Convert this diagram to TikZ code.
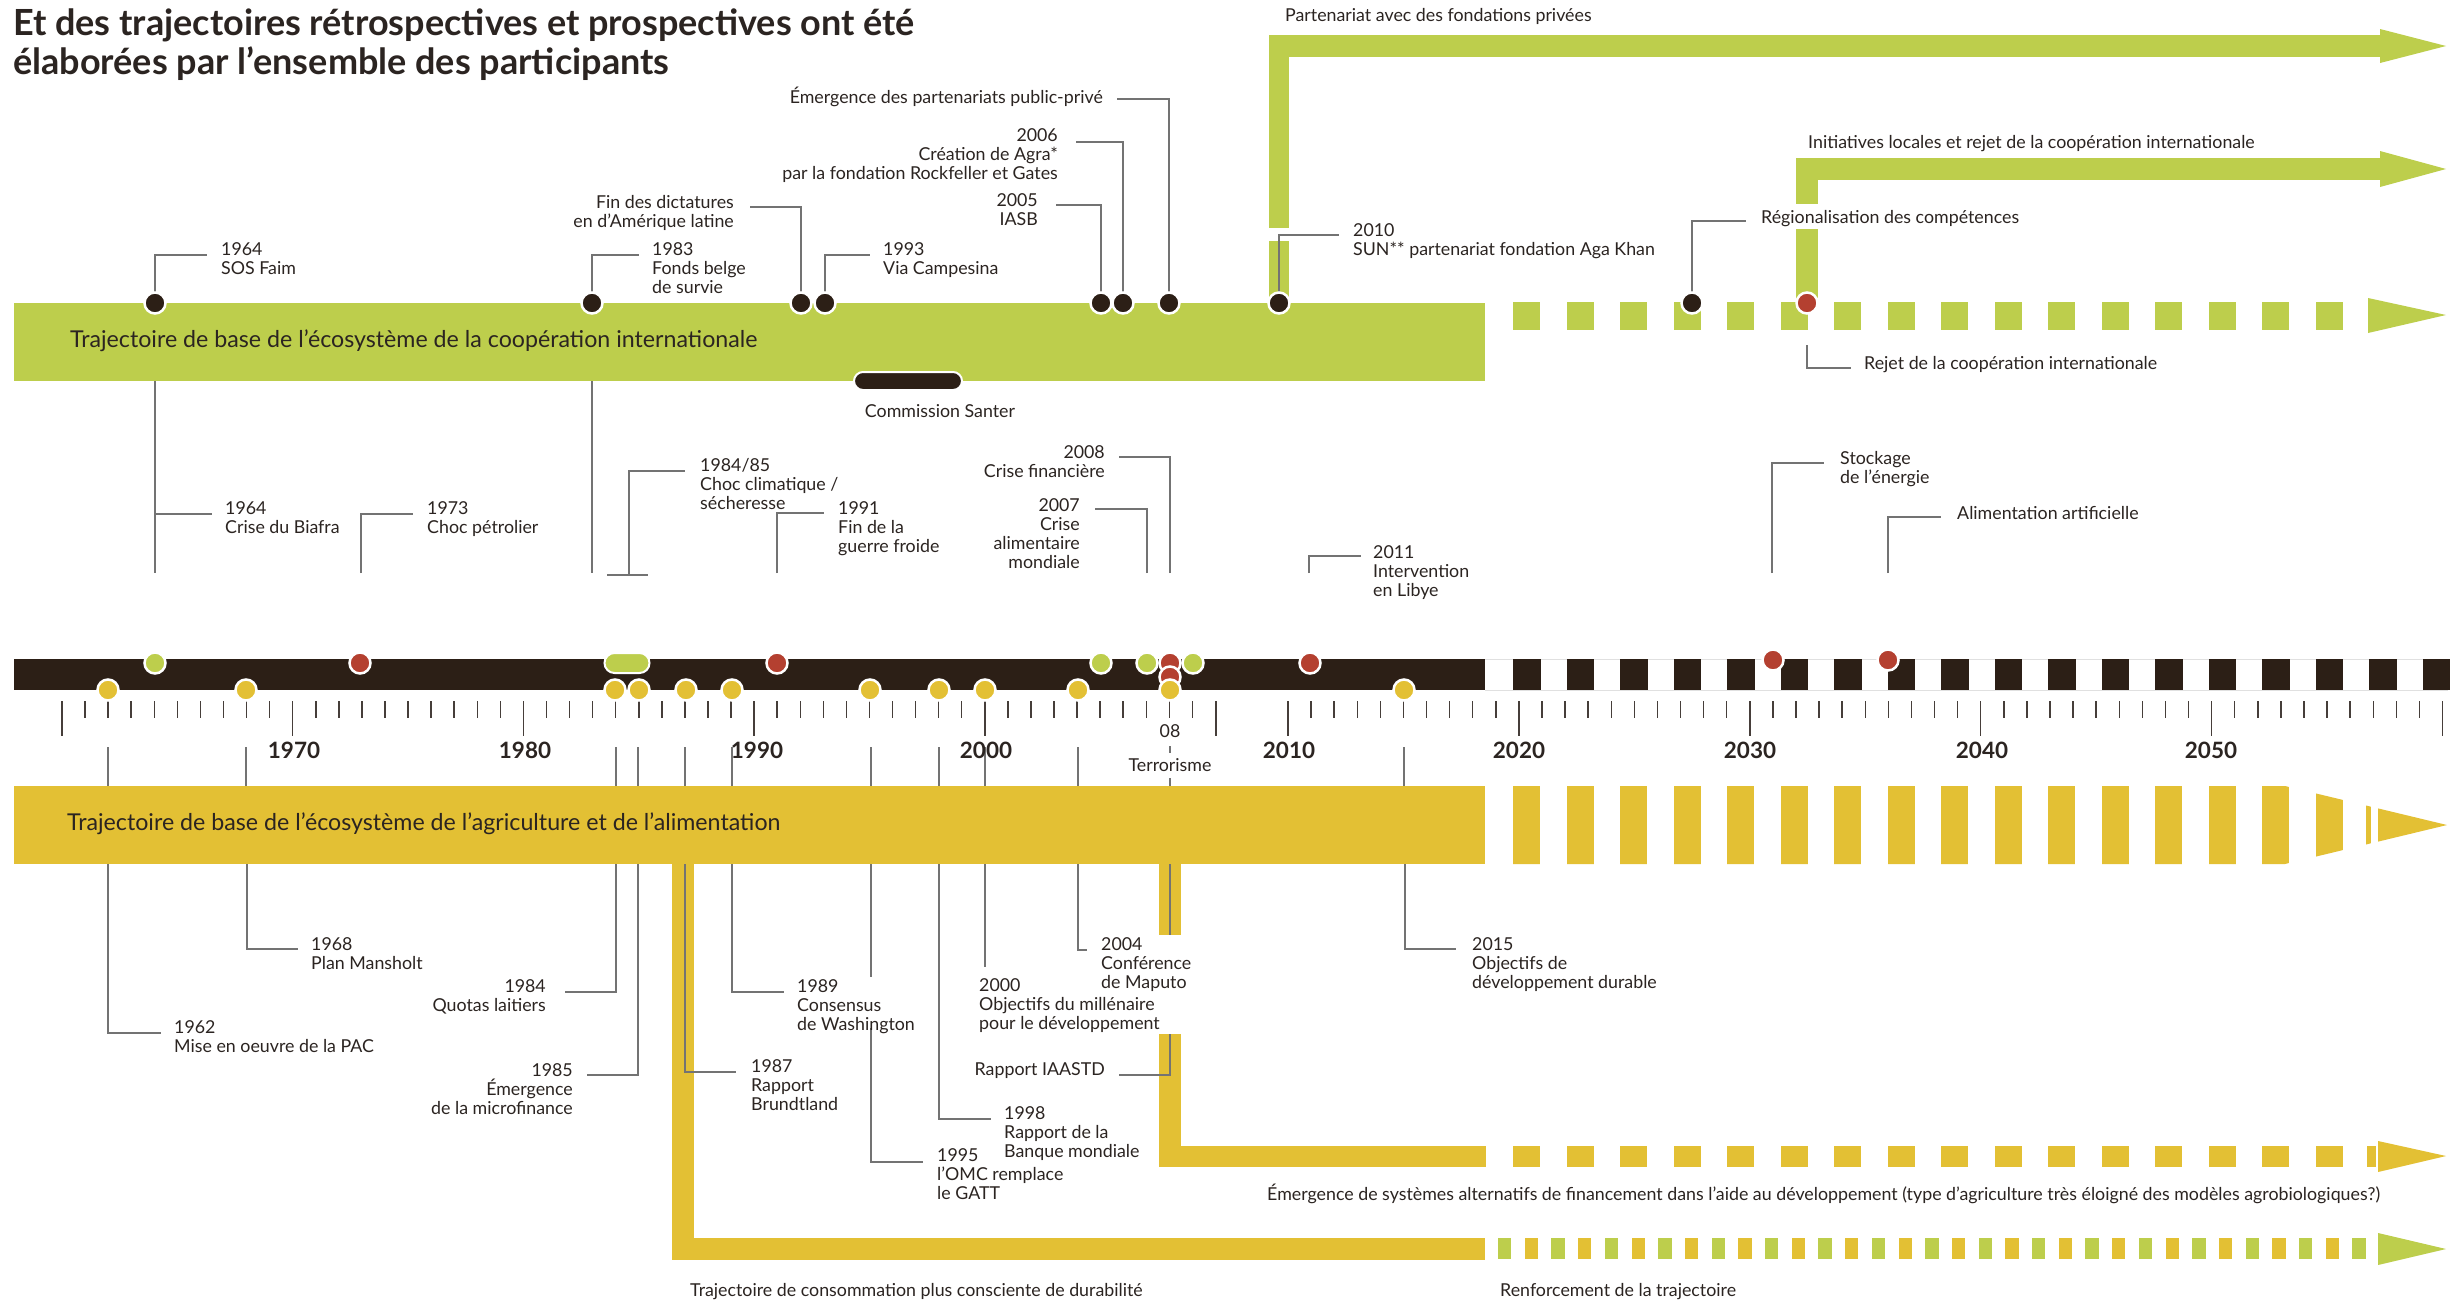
\documentclass[tikz,border=0pt]{standalone}
\usepackage{fontspec}
\setmainfont{Lato}
\definecolor{grn}{RGB}{189,206,76}
\definecolor{yel}{RGB}{227,192,52}
\definecolor{drk}{RGB}{44,31,22}
\definecolor{rd}{RGB}{180,64,48}
\definecolor{txt}{RGB}{43,36,33}
\definecolor{lin}{RGB}{115,115,115}
\definecolor{tk}{RGB}{70,62,58}
\newcommand{\labfont}{\fontsize{17.8}{19}\selectfont}
\newcommand{\bandfont}{\fontsize{23.2}{27}\selectfont}
\newcommand{\yrfont}{\fontsize{22.5}{26}\selectfont\bfseries}
\newcommand{\titlefont}{\fontsize{36}{39}\selectfont\bfseries}
\newcommand{\st}{\rule{0pt}{17pt}}
\pgfdeclarelayer{back}
\pgfdeclarelayer{lines}
\pgfsetlayers{back,lines,main}
\begin{document}
\begin{tikzpicture}[x=1pt,y=-1pt,
  lab/.style={font=\labfont, text=txt, inner sep=0pt, anchor=north west, align=left},
  labr/.style={lab, anchor=north east, align=right},
  labc/.style={lab, anchor=north, align=center},
  bandlab/.style={font=\bandfont, text=txt, inner sep=0pt, anchor=base west},
  yr/.style={font=\yrfont, text=txt, inner sep=0pt, anchor=base},
  dot/.style={circle, draw=white, line width=2.5pt, minimum size=21pt, inner sep=0pt},
  pill/.style={rectangle, rounded corners=9pt, draw=white, line width=2pt, inner sep=0pt},
  conn/.style={draw=lin, line width=1.6pt},
  tick/.style={draw=tk, line width=1.5pt}]
\useasboundingbox (0,0) rectangle (2464,1302);

\begin{pgfonlayer}{back}
\fill[white] (0,0) rectangle (2464,1302);
% ---- green band (international cooperation)
\fill[grn] (14,303) rectangle (1485,381);
\foreach \k in {0,...,15} \fill[grn] ({1513+53.5*\k},302) rectangle ++(27,28);
\fill[grn] (2368,298) -- (2446,315) -- (2368,333) -- cycle;
% top arrow 1
\fill[grn] (1269,35) rectangle (1289,228);
\fill[grn] (1269,241) rectangle (1289,303);
\fill[grn] (1269,35) rectangle (2380,57);
\fill[grn] (2380,29) -- (2446,46) -- (2380,63) -- cycle;
% top arrow 2
\fill[grn] (1796,158) rectangle (1818,204);
\fill[grn] (1796,229) rectangle (1818,303);
\fill[grn] (1796,158) rectangle (2380,180);
\fill[grn] (2380,151) -- (2446,169) -- (2380,187) -- cycle;
% ---- dark band (events)
\fill[drk] (14,659) rectangle (1485,690);
\draw[black!12, line width=1pt] (1485,659) -- (2448,659) (1485,690) -- (2448,690);
\foreach \k in {0,...,17} \fill[drk] ({1513+53.5*\k},659) rectangle ++(27.5,31);
% ---- yellow band (agriculture)
\fill[yel] (14,786) rectangle (1485,864);
\begin{scope}
\clip (1485,786) -- (2285,786) -- (2447,825) -- (2285,864) -- (1485,864) -- cycle;
\foreach \k in {0,...,15} \fill[yel] ({1513+53.5*\k},780) rectangle ++(27,90);
\fill[yel] (2366,780) rectangle (2371,870);
\fill[yel] (2378,780) rectangle (2460,870);
\end{scope}
% consumption trajectory
\fill[yel] (672,864) rectangle (694,1260);
\fill[yel] (672,1238) rectangle (1485,1260);
\foreach \k in {0,...,32}{
  \pgfmathsetmacro{\cc}{mod(\k,2)==0 ? 1 : 0}
  \ifdim\cc pt>0.5pt \fill[grn] ({1498+26.7*\k},1238) rectangle ++(13.3,21);
  \else \fill[yel] ({1498+26.7*\k},1238) rectangle ++(13.3,21); \fi
}
\fill[grn] (2378,1233) -- (2446,1249) -- (2378,1265) -- cycle;
% alternative financing trajectory
\fill[yel] (1159,864) rectangle (1181,935);
\fill[yel] (1159,1034) rectangle (1181,1167);
\fill[yel] (1159,1146) rectangle (1486,1167);
\foreach \k in {0,...,15} \fill[yel] ({1513+53.5*\k},1146) rectangle ++(27,21);
\fill[yel] (2367,1146) rectangle (2376,1167);
\fill[yel] (2378,1141) -- (2446,1156) -- (2378,1172) -- cycle;
\end{pgfonlayer}

% ---- title
\node[font=\titlefont, text=txt, inner sep=0pt, anchor=north west, align=left] (title) at (13,-1)
  {\rule{0pt}{36pt}Et des trajectoires rétrospectives et prospectives ont été\\élaborées par l’ensemble des participants};

% ---- band labels
\node[bandlab] (bandgreen) at (70,347) {Trajectoire de base de l’écosystème de la coopération internationale};
\node[bandlab] (bandyellow) at (67,830) {Trajectoire de base de l’écosystème de l’agriculture et de l’alimentation};

% ---- dots on green band
\node[dot, fill=drk] (a1964) at (155,303) {};
\node[dot, fill=drk] (a1983) at (592,303) {};
\node[dot, fill=drk] (a1992) at (801,303) {};
\node[dot, fill=drk] (a1993) at (825,303) {};
\node[dot, fill=drk] (a2005) at (1101,303) {};
\node[dot, fill=drk] (a2006) at (1123,303) {};
\node[dot, fill=drk] (a2008) at (1169,303) {};
\node[dot, fill=drk] (a2010) at (1279,303) {};
\node[dot, fill=drk] (a2027) at (1692,303) {};
\node[dot, fill=rd] (a2032) at (1807,303) {};
\node[pill, fill=drk, minimum width=108pt, minimum height=18pt] (santer) at (908,381) {};

% ---- dots on dark band
\node[dot, fill=grn] (b1964) at (155,663) {};
\node[dot, fill=rd] (b1973) at (360,663) {};
\node[pill, fill=grn, rounded corners=10pt, minimum width=45pt, minimum height=20pt] (b1984) at (627,663) {};
\node[dot, fill=rd] (b1991) at (777,663) {};
\node[dot, fill=grn] (b2005) at (1101,663) {};
\node[dot, fill=grn] (b2007) at (1147,663) {};
\node[dot, fill=rd] (b2008a) at (1170,663) {};
\node[dot, fill=grn] (b2009) at (1193,663) {};
\node[dot, fill=rd] (b2008b) at (1170,677) {};
\node[dot, fill=rd] (b2011) at (1310,663) {};
\node[dot, fill=rd] (b2031) at (1773,660) {};
\node[dot, fill=rd] (b2036) at (1888,660) {};
\foreach \x/\n in {108/c1962,246/c1968,615/c1984,639/c1985,686/c1987,732/c1989,870/c1995,939/c1998,985/c2000,1078/c2004,1170/c2008,1404/c2015}
  \node[dot, fill=yel] (\n) at (\x,690) {};

% ---- axis ticks and years
\begin{pgfonlayer}{lines}
\foreach \i in {0,...,49}{
  \pgfmathsetmacro{\xx}{62+23.07*\i}
  \pgfmathsetmacro{\yy}{mod(\i,10)==0 ? 736 : 718}
  \draw[tick] (\xx,701) -- (\xx,\yy);
}
\draw[tick] (1216,701) -- (1216,736);
\foreach \i in {0,...,50}{
  \pgfmathsetmacro{\xx}{1288+23.09*\i}
  \pgfmathsetmacro{\yy}{mod(\i,10)==0 ? 736 : 718}
  \draw[tick] (\xx,701) -- (\xx,\yy);
}
\end{pgfonlayer}
\foreach \x/\y in {294/1970,525/1980,757/1990,986/2000,1289/2010,1519/2020,1750/2030,1982/2040,2211/2050}
  \node[yr] (y\y) at (\x,758) {\y};
\node[labc] (y08) at (1170,720) {\st 08};
\node[labc] (terror) at (1170,754) {\st Terrorisme};

% ---- labels above green band
\node[lab] (l1964s) at (221,238) {\st 1964\\SOS Faim};
\node[lab] (l1983) at (652,238) {\st 1983\\Fonds belge\\de survie};
\node[labr] (ldict) at (734,191) {\st Fin des dictatures\\en d’Amérique latine};
\node[lab] (l1993) at (883,238) {\st 1993\\Via Campesina};
\node[labr] (l2005) at (1038,189) {\st 2005\\IASB};
\node[labr] (l2006) at (1058,124) {\st 2006\\Création de Agra*\\par la fondation Rockfeller et Gates};
\node[labr] (lppp) at (1103,86) {\st Émergence des partenariats public-privé};
\node[lab] (l2010) at (1353,219) {\st 2010\\SUN** partenariat fondation Aga Khan};
\node[lab] (lregio) at (1761,206) {\st Régionalisation des compétences};
\node[lab] (lpart) at (1285,4) {\st Partenariat avec des fondations privées};
\node[lab] (linit) at (1808,131) {\st Initiatives locales et rejet de la coopération internationale};
\node[lab] (lrejet) at (1864,352) {\st Rejet de la coopération internationale};
\node[labc] (lsanter) at (940,400) {\st Commission Santer};

% ---- labels between green and dark bands
\node[lab] (l1964b) at (225,497) {\st 1964\\Crise du Biafra};
\node[lab] (l1973) at (427,497) {\st 1973\\Choc pétrolier};
\node[lab] (l1984c) at (700,454) {\st 1984/85\\Choc climatique /\\sécheresse};
\node[lab] (l1991) at (838,497) {\st 1991\\Fin de la\\guerre froide};
\node[labr] (l2008) at (1105,441) {\st 2008\\Crise financière};
\node[labr] (l2007) at (1080,494) {\st 2007\\Crise\\alimentaire\\mondiale};
\node[lab] (l2011) at (1373,541) {\st 2011\\Intervention\\en Libye};
\node[lab] (lstock) at (1840,447) {\st Stockage\\de l’énergie};
\node[lab] (lalim) at (1957,502) {\st Alimentation artificielle};

% ---- labels below yellow band
\node[lab] (l1962) at (174,1016) {\st 1962\\Mise en oeuvre de la PAC};
\node[lab] (l1968) at (311,933) {\st 1968\\Plan Mansholt};
\node[labr] (l1984q) at (546,975) {\st 1984\\Quotas laitiers};
\node[labr] (l1985) at (573,1059) {\st 1985\\Émergence\\de la microfinance};
\node[lab] (l1987) at (751,1055) {\st 1987\\Rapport\\Brundtland};
\node[lab] (l1989) at (797,975) {\st 1989\\Consensus\\de Washington};
\node[lab] (l1995) at (937,1144) {\st 1995\\l’OMC remplace\\le GATT};
\node[lab] (l1998) at (1004,1102) {\st 1998\\Rapport de la\\Banque mondiale};
\node[lab] (l2000) at (979,974) {\st 2000\\Objectifs du millénaire\\pour le développement};
\node[lab] (l2004) at (1101,933) {\st 2004\\Conférence\\de Maputo};
\node[labr] (liaastd) at (1105,1058) {\st Rapport IAASTD};
\node[lab] (l2015) at (1472,933) {\st 2015\\Objectifs de\\développement durable};
\node[lab] (lalt) at (1267,1183) {\st Émergence de systèmes alternatifs de financement dans l’aide au développement (type d’agriculture très éloigné des modèles agrobiologiques?)};
\node[lab] (lconso) at (690,1279) {\st Trajectoire de consommation plus consciente de durabilité};
\node[lab] (lrenf) at (1500,1279) {\st Renforcement de la trajectoire};

% ---- connectors
\begin{pgfonlayer}{lines}
\draw[conn] (a1964.center) |- (207,255);
\draw[conn] (a1983.center) |- (639,255);
\draw[conn] (a1992.center) |- (750,207);
\draw[conn] (a1993.center) |- (870,255);
\draw[conn] (a2005.center) |- (1056,205);
\draw[conn] (a2006.center) |- (1076,142);
\draw[conn] (a2008.center) |- (1117,99);
\draw[conn] (a2010.center) |- (1339,235);
\draw[conn] (a2027.center) |- (1746,221);
\coordinate (r2032) at (1807,345);
\draw[conn] (r2032) |- (1851,368);
% between bands
\draw[conn] (155,381) -- (155,573) (155,514) -- (212,514);
\draw[conn] (361,573) |- (413,514);
\draw[conn] (592,381) -- (592,573);
\draw[conn] (629,575) |- (685,471) (607,575) -- (648,575);
\draw[conn] (777,573) |- (824,513);
\draw[conn] (1170,573) |- (1119,457);
\draw[conn] (1147,573) |- (1095,509);
\draw[conn] (1309,573) |- (1361,556);
\draw[conn] (1772,573) |- (1824,463);
\draw[conn] (1888,573) |- (1941,517);
% stubs above yellow band
\foreach \x in {108,246,616,638,685,732,871,939,985,1078,1404}
  \draw[conn] (\x,747) -- (\x,786);
\draw[conn] (1170,746) -- (1170,753) (1170,778) -- (1170,786);
% below yellow band
\draw[conn] (108,864) |- (161,1033);
\draw[conn] (247,864) |- (298,949);
\draw[conn] (616,864) |- (565,992);
\draw[conn] (638,864) |- (587,1075);
\draw[conn] (685,864) |- (736,1072);
\draw[conn] (732,864) |- (784,992);
\draw[conn] (871,864) -- (871,977) (871,1028) |- (923,1162);
\draw[conn] (939,864) |- (991,1119);
\draw[conn] (985,864) -- (985,967);
\draw[conn] (1078,864) |- (1087,950);
\draw[conn] (1170,864) -- (1170,935) (1170,1034) |- (1119,1075);
\draw[conn] (1405,864) |- (1456,949);
\end{pgfonlayer}
\end{tikzpicture}
\end{document}
